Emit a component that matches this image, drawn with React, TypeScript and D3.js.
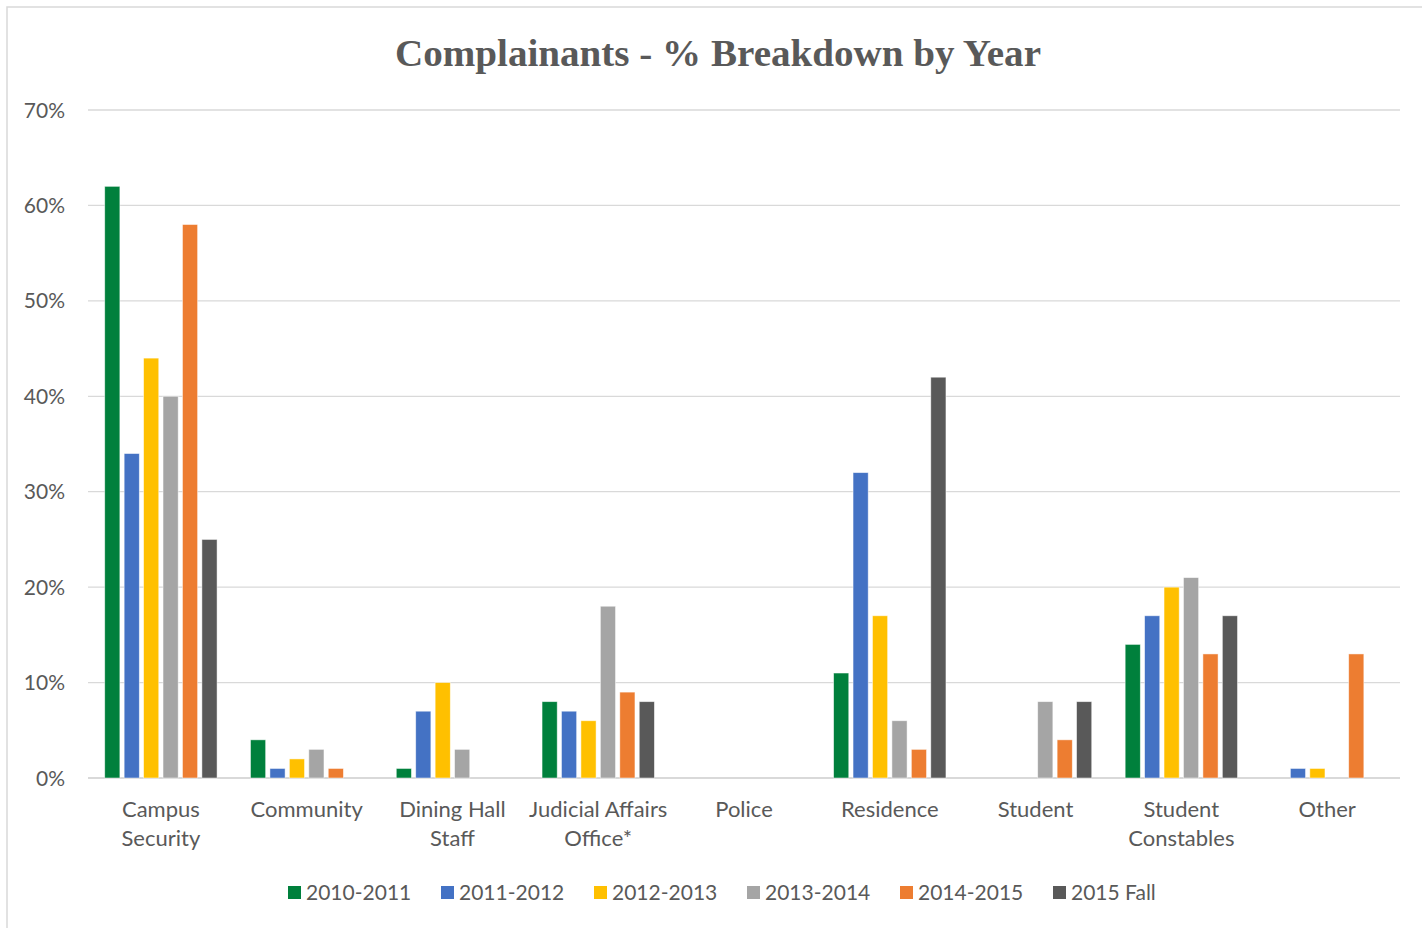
import React from "react";
import * as d3 from "d3";

const categories = [
  "Campus Security",
  "Community",
  "Dining Hall Staff",
  "Judicial Affairs Office*",
  "Police",
  "Residence",
  "Student",
  "Student Constables",
  "Other",
];
const categoryLines = [
  ["Campus", "Security"],
  ["Community"],
  ["Dining Hall", "Staff"],
  ["Judicial Affairs", "Office*"],
  ["Police"],
  ["Residence"],
  ["Student"],
  ["Student", "Constables"],
  ["Other"],
];
const seriesNames = ["2010-2011", "2011-2012", "2012-2013", "2013-2014", "2014-2015", "2015 Fall"];
const seriesColors = ["#00803c", "#4472c4", "#ffc000", "#a5a5a5", "#ed7d31", "#595959"];
const s2010 = [62, 4, 1, 8, 0, 11, 0, 14, 0];
const s2011 = [34, 1, 7, 7, 0, 32, 0, 17, 1];
const s2012 = [44, 2, 10, 6, 0, 17, 0, 20, 1];
const s2013 = [40, 3, 3, 18, 0, 6, 8, 21, 0];
const s2014 = [58, 1, 0, 9, 0, 3, 4, 13, 13];
const s2015 = [25, 0, 0, 8, 0, 42, 8, 17, 0];
const seriesValues = [s2010, s2011, s2012, s2013, s2014, s2015];
const yTicks = [0, 10, 20, 30, 40, 50, 60, 70];

export default function App() {
  const W = 1422, H = 928;
  const left = 88, right = 1400, top = 110, bottom = 778;
  const x0 = d3.scaleBand<string>().domain(categories).range([left, right]).paddingInner(0.2).paddingOuter(0.1);
  const x1 = d3.scaleBand<string>().domain(seriesNames).range([0, x0.bandwidth()]).paddingInner(0.22).paddingOuter(0.11);
  const y = d3.scaleLinear().domain([0, 70]).range([bottom, top]);
  const catStep = (right - left) / categories.length;
  const catCenter = (i: number) => left + catStep * (i + 0.5);
  const sansFont = "Lato, 'Open Sans', sans-serif";

  const legendX = [288, 441, 594, 747, 900, 1053];

  return (
    <svg width={W} height={H} style={{ position: "absolute", left: 0, top: 0 }}>
      <rect x={0} y={0} width={W} height={H} fill="#ffffff" />
      <rect x={7} y={7} width={W + 20} height={H + 20} fill="#ffffff" stroke="#d9d9d9" strokeWidth={1.5} />
      <text x={718} y={66} textAnchor="middle" fontFamily="'Liberation Serif', 'DejaVu Serif', serif" fontWeight="bold" fontSize={38} fill="#595959" textLength={646} lengthAdjust="spacingAndGlyphs">
        Complainants - % Breakdown by Year
      </text>
      {yTicks.map((t) => (
        <g key={t}>
          <line x1={left} x2={right} y1={y(t)} y2={y(t)} stroke="#d9d9d9" strokeWidth={t === 0 ? 2 : 1.3} />
          <text x={65} y={y(t)} dy="0.36em" textAnchor="end" fontFamily={sansFont} fontSize={21} fill="#595959">
            {t}%
          </text>
        </g>
      ))}
      {categories.map((c, ci) => (
        <g key={c}>
          {seriesNames.map((s, si) => {
            const v = seriesValues[si][ci];
            if (v <= 0) return null;
            const bx = (x0(c) as number) + (x1(s) as number);
            return (
              <rect key={s} x={bx} y={y(v)} width={x1.bandwidth()} height={y(0) - y(v)} fill={seriesColors[si]} stroke="#ffffff" strokeOpacity={0.6} strokeWidth={0.8} />
            );
          })}
          {categoryLines[ci].map((ln, li) => (
            <text key={li} x={catCenter(ci)} y={817 + li * 29} textAnchor="middle" fontFamily={sansFont} fontSize={22} fill="#595959">
              {ln}
            </text>
          ))}
        </g>
      ))}
      {seriesNames.map((s, si) => (
        <g key={s}>
          <rect x={legendX[si]} y={886} width={13} height={13} fill={seriesColors[si]} />
          <text x={legendX[si] + 18} y={900} fontFamily={sansFont} fontSize={21} fill="#595959">
            {s}
          </text>
        </g>
      ))}
    </svg>
  );
}
